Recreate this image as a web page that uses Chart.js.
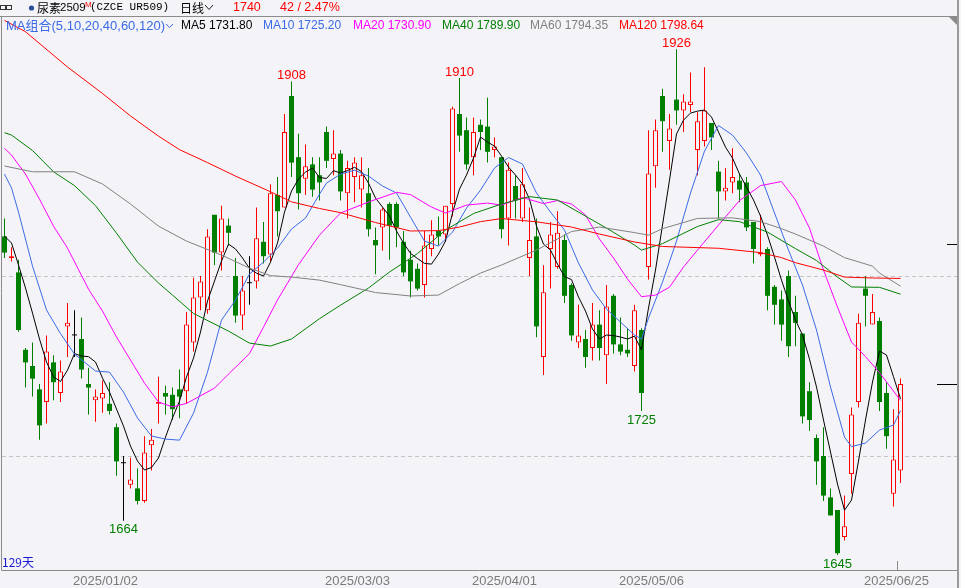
<!DOCTYPE html>
<html>
<head>
<meta charset="utf-8">
<title>尿素2509 日线</title>
<script src="https://cdn.jsdelivr.net/npm/chart.js@4.4.1/dist/chart.umd.min.js"></script>
<style>
  html, body { margin: 0; padding: 0; background: #f4f4f8; }
  #wrap { position: relative; width: 961px; height: 588px; overflow: hidden; }
  #c { position: absolute; left: 0; top: 0; }
  .t { position: absolute; white-space: nowrap; line-height: 15px; font-size: 12px;
       font-family: "Liberation Sans", "Noto Sans CJK SC", sans-serif; }
  .cjk { font-family: "Noto Sans CJK SC", sans-serif; }
</style>
</head>
<body>
<div id="wrap">
  <canvas id="c" width="961" height="588"></canvas>
  <!-- header row -->
  <span class="t cjk" style="left:37px;top:0;color:#000">尿素</span>
  <span class="t" style="left:60px;top:0;font-size:11.5px;color:#000">2509</span>
  <span class="t" style="left:85px;top:-3px;font-size:8px;color:#f00">M</span>
  <span class="t" style="left:90px;top:0;font-family:'Liberation Mono',monospace;font-size:11px;color:#000">(CZCE UR509)</span>
  <span class="t cjk" style="left:180px;top:0;color:#000">日线</span>
  <span class="t" id="lastPrice" style="left:233px;top:0;font-size:12.5px;color:#f00"></span>
  <span class="t" id="lastChange" style="left:280px;top:0;font-size:12.5px;color:#f00"></span>
  <!-- MA legend row -->
  <span class="t" style="left:6px;top:18px;font-size:13px;color:#3a6ae6">MA组合(5,10,20,40,60,120)</span>
  <span class="t" id="lg5" style="left:181px;top:18px;color:#000"></span>
  <span class="t" id="lg10" style="left:263px;top:18px;color:#3a6ae6"></span>
  <span class="t" id="lg20" style="left:353px;top:18px;color:#ff00ff"></span>
  <span class="t" id="lg40" style="left:442px;top:18px;color:#007f00"></span>
  <span class="t" id="lg60" style="left:530px;top:18px;color:#808080"></span>
  <span class="t" id="lg120" style="left:619px;top:18px;color:#f00"></span>
</div>
<script>
// Daily candles, UR509 (129 trading days)
const openP  = [1822,1810,1802,1759,1750,1737,1730,1752,1735,1772,1767,1765,1740,1731,1732,1729,1716,1696,1684,1682,
                1675,1706,1729,1735,1734,1737,1736,1763,1788,1781,1834,1813,1828,1800,1778,1796,1797,1819,1812,1845,
                1838,1900,1866,1854,1862,1856,1880,1865,1868,1846,1855,1848,1846,1820,1827,1840,1840,1819,1809,1804,
                1795,1815,1825,1823,1840,1890,1881,1866,1884,1883,1870,1866,1832,1850,1832,1810,1822,1755,1815,1805,
                1820,1795,1763,1765,1760,1773,1756,1789,1762,1759,1750,1770,1805,1861,1900,1875,1898,1892,1895,1870,
                1875,1885,1858,1847,1852,1853,1852,1830,1812,1815,1794,1787,1800,1780,1768,1736,1710,1700,1677,1670,
                1655,1690,1730,1793,1773,1775,1735,1679,1692];
const highP  = [1832,1816,1809,1760,1763,1740,1767,1756,1753,1785,1781,1777,1749,1737,1742,1741,1718,1700,1699,1693,
                1711,1715,1744,1739,1738,1748,1780,1799,1800,1826,1834,1839,1832,1810,1800,1811,1838,1830,1851,1855,
                1890,1908,1879,1873,1866,1866,1883,1881,1870,1864,1866,1866,1860,1827,1838,1841,1841,1825,1814,1807,
                1825,1831,1833,1839,1894,1910,1888,1888,1887,1899,1877,1866,1863,1856,1860,1838,1832,1806,1830,1836,
                1823,1796,1784,1770,1785,1781,1795,1790,1777,1771,1784,1771,1881,1887,1904,1890,1926,1901,1913,1891,
                1916,1885,1864,1860,1871,1857,1855,1830,1834,1816,1795,1792,1803,1789,1768,1741,1712,1716,1682,1670,
                1678,1727,1779,1800,1790,1777,1741,1726,1743];
const lowP   = [1810,1808,1769,1738,1733,1709,1718,1731,1730,1755,1755,1743,1723,1719,1724,1723,1689,1664,1682,1673,
                1674,1692,1718,1723,1720,1721,1729,1758,1781,1779,1806,1803,1817,1774,1770,1784,1793,1807,1808,1822,
                1838,1855,1837,1845,1844,1842,1860,1856,1842,1832,1841,1838,1822,1801,1814,1809,1816,1800,1788,1792,
                1788,1811,1817,1819,1833,1869,1859,1856,1870,1863,1866,1821,1817,1832,1830,1800,1766,1745,1793,1804,
                1785,1764,1760,1749,1753,1753,1740,1757,1756,1755,1747,1725,1798,1849,1869,1859,1884,1880,1891,1856,
                1872,1870,1832,1842,1846,1841,1825,1807,1811,1781,1773,1764,1755,1761,1718,1714,1684,1675,1667,1645,
                1653,1679,1727,1772,1773,1725,1704,1672,1685];
const closeP = [1813,1811,1770,1752,1743,1717,1758,1741,1747,1774,1767,1748,1738,1733,1735,1725,1697,1696,1687,1675,
                1702,1709,1730,1733,1726,1733,1773,1788,1797,1822,1813,1832,1824,1778,1792,1796,1821,1811,1846,1836,
                1880,1863,1846,1861,1848,1852,1864,1868,1847,1860,1863,1856,1826,1817,1837,1828,1827,1802,1797,1793,
                1817,1823,1822,1839,1893,1878,1862,1880,1880,1869,1872,1826,1859,1842,1851,1820,1772,1791,1823,1824,
                1789,1767,1767,1755,1773,1760,1783,1762,1758,1757,1781,1735,1857,1881,1886,1882,1892,1897,1897,1886,
                1892,1877,1847,1849,1855,1848,1827,1815,1813,1789,1784,1773,1761,1774,1722,1720,1697,1678,1667,1646,
                1661,1723,1774,1789,1780,1730,1711,1698,1740];

// Moving averages: candle index -> value
const ma5Val = [1822.2,1818.3,1806.1,1793.3,1779.4,1765,1752.2,1744,1741.4,1747.7,1756.9,1755.5,1755.2,1752.2,1743.3,1735.5,
                1726.1,1716.6,1705.5,1697.2,1692.2,1693.6,1698.9,1710.5,1721.1,1730.5,1743.9,1754.4,1768.9,1786.1,1797.2,
                1808.3,1817.7,1815,1810,1804.2,1801.6,1800,1807.7,1818.3,1835.5,1847.2,1853.9,1857.7,1860,1854.7,1854.2,
                1858.5,1857.2,1858.6,1860.4,1858,1851.6,1843.3,1838.3,1833.3,1825,1818.3,1812.6,1809.7,1807,1806.6,1812.2,
                1819.4,1835,1848.3,1856.1,1865.5,1877.2,1874.4,1872.2,1866.6,1860.5,1856.1,1851.1,1842.7,1827.7,1817.7,
                1814.4,1806.6,1799.7,1798,1788.3,1780.5,1770.5,1765,1767.2,1766.9,1766.1,1765,1766.6,1758.9,1782.2,1803.3,
                1828.3,1853.3,1878.9,1886.6,1890.5,1891.6,1892.2,1888.3,1880,1871.6,1865.5,1856.6,1849.4,1842.2,1833.3,
                1822.7,1810.5,1797.7,1786.1,1775.5,1767.2,1753.8,1738.3,1720,1702.2,1684.4,1669.9,1675.5,1697.2,1720,
                1741.1,1758.3,1756.1,1744,1731.8];
const ma10Idx = [0,1,2,4,6,8,10,13,15,17,19,21,23,25,27,29,31,33,35,37,39,41,43,45,46,48,50,52,54,56,58,60,62,64,66,68,70,
                 72,74,76,78,80,82,84,86,88,90,91,92,94,96,98,100,102,104,106,108,110,112,114,116,118,120,121,123,125,127,128];
const ma10Val = [1856.6,1848.9,1835.5,1805.5,1781.1,1768,1756.6,1747.2,1746.6,1735.5,1721.1,1711.1,1709.4,1708.8,1723.8,
                 1746.6,1775.5,1786.6,1801.1,1807.7,1815.5,1826.1,1832.2,1845.5,1851.6,1856.6,1858.8,1855.5,1850,1846.1,
                 1832.7,1819.4,1816.6,1824.4,1837.7,1847.7,1860,1865.8,1862.2,1846.1,1835.5,1825.5,1807.2,1792.2,1781.6,
                 1774.4,1767.2,1765,1776.6,1796.6,1819.4,1846.1,1869.4,1883.6,1878.3,1868.3,1856.1,1835,1814.4,1795,1770,
                 1738.3,1710.5,1705.2,1707.2,1714.4,1717.2,1725.2];
const ma20Idx = [0,1,3,5,7,9,12,14,16,18,20,22,24,26,30,32,35,37,39,42,45,48,52,56,58,61,63,66,69,71,74,77,79,81,83,85,87,
                 89,91,93,95,97,99,102,105,108,111,113,115,117,119,121,123,125,128];
const ma20Val = [1870.9,1867.2,1856.6,1842.7,1827.7,1815.5,1792.7,1780.5,1766.1,1753.3,1740.5,1730,1727.3,1729.2,1737.7,
                 1745.5,1756.9,1771.6,1786.7,1806.3,1822.7,1835,1841.1,1846.5,1845.2,1838.3,1835,1839.4,1840.5,1839.4,
                 1843.6,1840.2,1841.9,1840,1833.9,1820.5,1810,1798.3,1788.5,1789.4,1793.8,1805,1814.4,1828.3,1841.9,
                 1850.2,1852.5,1842.2,1826.6,1803.3,1782.7,1763.3,1755.2,1746.3,1730.9];
const ma40Idx = [0,1,4,7,10,13,16,19,22,24,27,32,35,38,41,45,48,52,55,59,63,67,71,75,79,82,86,90,91,94,99,102,105,109,113,
                 116,119,121,125,128];
const ma40Val = [1879.6,1878.3,1869.7,1857.9,1850.2,1839.1,1823.8,1807.7,1796.1,1789.4,1779.2,1769.4,1762.7,1761.1,1765,
                 1776.3,1783.8,1793.3,1802.2,1812.5,1825.5,1834.7,1840,1844.1,1842.2,1835.5,1826.6,1817.2,1814.4,1818,
                 1827.5,1831.3,1830.2,1824.4,1815.2,1808.6,1799.4,1793.9,1793.7,1789.9];
const ma60Idx = [0,4,10,14,18,22,26,31,35,38,41,45,48,53,58,62,65,68,71,76,81,85,90,92,94,99,104,108,111,113,117,120,124,
                 125,128];
const ma60Val = [1861.1,1857.9,1857.9,1851.1,1840,1827.7,1819.4,1811.6,1804.4,1800.2,1799.4,1797.7,1795.2,1790.8,1788.9,
                 1789.4,1795.8,1801.6,1806.1,1814.4,1824.7,1827.2,1824.1,1822.7,1826.3,1832,1832.3,1830.2,1826.3,1823.3,
                 1816.6,1810.2,1805.5,1801.6,1794.35];
const ma120Idx = [0,3,9,14,18,22,25,29,33,38,41,45,48,53,58,62,65,68,71,76,81,85,90,94,102,108,111,113,117,120,124,128];
const ma120Val = [1942,1935.7,1916.1,1901.4,1888.9,1877.7,1870.2,1863,1855.5,1846.8,1841.2,1837.5,1835.2,1829.7,1825,
                  1825.2,1827.2,1830.2,1831.9,1830.1,1827.2,1823.3,1818.9,1816.4,1815.4,1813,1810.2,1807.4,1803.3,1799.4,
                  1798.9,1798.64];

// Labels and reference levels
const peakHighIdx = [41, 65, 96];
const peakLowIdx = [17, 91, 119];
const gridLevels = [1800, 1700];
const axisMarks = [1818, 1740];
const dateTicks = ['2025/01/02', '2025/03/03', '2025/04/01', '2025/05/06', '2025/06/25'];
const dateTickIdx = [15, 51, 72, 93, 128];
const dayCountLabel = '129天';

const BG = '#f4f4f8';
const UP = '#ff0000';
const DOWN = '#007f00';
const FLAT = '#000000';

const idx = openP.map((_, i) => i);
const candleColor = idx.map(i => closeP[i] > openP[i] ? UP : (closeP[i] < openP[i] ? DOWN : FLAT));
const isUp = idx.map(i => closeP[i] > openP[i]);

function zip(xs, ys) {
    return xs.map((x, k) => ({ x: x, y: ys[k] }));
}

// Header texts
const last = closeP[closeP.length - 1];
const prev = closeP[closeP.length - 2];
document.getElementById('lastPrice').textContent = String(last);
document.getElementById('lastChange').textContent = (last - prev) + ' / ' + ((last - prev) / prev * 100).toFixed(2) + '%';
document.getElementById('lg5').textContent = 'MA5 ' + ma5Val[ma5Val.length - 1].toFixed(2);
document.getElementById('lg10').textContent = 'MA10 ' + ma10Val[ma10Val.length - 1].toFixed(2);
document.getElementById('lg20').textContent = 'MA20 ' + ma20Val[ma20Val.length - 1].toFixed(2);
document.getElementById('lg40').textContent = 'MA40 ' + ma40Val[ma40Val.length - 1].toFixed(2);
document.getElementById('lg60').textContent = 'MA60 ' + ma60Val[ma60Val.length - 1].toFixed(2);
document.getElementById('lg120').textContent = 'MA120 ' + ma120Val[ma120Val.length - 1].toFixed(2);

// Frame, grid, labels
const decor = {
    id: 'decor',
    beforeDatasetsDraw(chart) {
        const { ctx, chartArea: a, scales: { y } } = chart;
        ctx.save();
        ctx.strokeStyle = '#c4c4c4';
        ctx.lineWidth = 1;
        ctx.setLineDash([4, 3]);
        gridLevels.forEach(v => {
            const py = Math.round(y.getPixelForValue(v)) + 0.5;
            ctx.beginPath();
            ctx.moveTo(a.left, py);
            ctx.lineTo(a.right, py);
            ctx.stroke();
        });
        ctx.restore();
    },
    afterDraw(chart) {
        const { ctx, chartArea: a, scales: { x, y } } = chart;
        ctx.save();

        // frame
        ctx.strokeStyle = '#8a8a8a';
        ctx.lineWidth = 1;
        ctx.beginPath();
        ctx.moveTo(0, 16.5); ctx.lineTo(a.right, 16.5);
        ctx.moveTo(1.5, 16.5); ctx.lineTo(1.5, 570.5);
        ctx.moveTo(1.5, 570.5); ctx.lineTo(a.right, 570.5);
        ctx.stroke();
        ctx.strokeStyle = '#9a9a9a';
        ctx.lineWidth = 2;
        ctx.beginPath();
        ctx.moveTo(a.right + 1, 0); ctx.lineTo(a.right + 1, 588);
        ctx.stroke();
        ctx.fillStyle = '#8a8a8a';
        ctx.beginPath();
        ctx.moveTo(a.right - 8, 17); ctx.lineTo(a.right, 17); ctx.lineTo(a.right, 25);
        ctx.closePath();
        ctx.fill();

        // header icon, dot and chevrons
        ctx.strokeStyle = '#333';
        ctx.lineWidth = 1;
        ctx.strokeRect(0.5, 5.5, 6, 4);
        ctx.strokeRect(5.5, 5.5, 6, 4);
        ctx.fillStyle = '#2a4d9b';
        ctx.beginPath();
        ctx.arc(31.5, 8, 2.6, 0, Math.PI * 2);
        ctx.fill();
        ctx.strokeStyle = '#222';
        ctx.beginPath();
        ctx.moveTo(205, 5); ctx.lineTo(209, 9.5); ctx.lineTo(213, 5);
        ctx.stroke();
        ctx.strokeStyle = '#3a6ae6';
        ctx.beginPath();
        ctx.moveTo(166, 24); ctx.lineTo(169.5, 27.5); ctx.lineTo(173, 24);
        ctx.stroke();

        // right axis marks
        ctx.strokeStyle = '#000';
        axisMarks.forEach((v, k) => {
            const py = Math.round(y.getPixelForValue(v)) + 0.5;
            ctx.beginPath();
            ctx.moveTo(a.right - (k === 0 ? 10 : 20), py);
            ctx.lineTo(a.right, py);
            ctx.stroke();
        });

        // peak / trough labels
        ctx.font = '13px "Liberation Sans", sans-serif';
        ctx.textAlign = 'center';
        ctx.textBaseline = 'middle';
        ctx.fillStyle = UP;
        peakHighIdx.forEach(i => {
            ctx.fillText(String(highP[i]), x.getPixelForValue(i), y.getPixelForValue(highP[i]) - 6);
        });
        ctx.fillStyle = DOWN;
        peakLowIdx.forEach(i => {
            ctx.fillText(String(lowP[i]), x.getPixelForValue(i), y.getPixelForValue(lowP[i]) + 9);
        });

        // date axis
        ctx.fillStyle = '#7a7a7a';
        dateTicks.forEach((d, k) => {
            ctx.fillText(d, x.getPixelForValue(dateTickIdx[k]) - 4, 581);
        });
        const lastTick = Math.round(x.getPixelForValue(dateTickIdx[dateTickIdx.length - 1]) - 4) + 0.5;
        ctx.strokeStyle = '#8a8a8a';
        ctx.beginPath();
        ctx.moveTo(lastTick, 561); ctx.lineTo(lastTick, 570);
        ctx.stroke();

        // day count
        ctx.textAlign = 'left';
        ctx.fillStyle = '#1a1ad0';
        ctx.font = '12px "Noto Sans CJK SC", sans-serif';
        ctx.fillText(dayCountLabel, 2, 562);

        ctx.restore();
    }
};

// Layout: 7 px per candle, 1.8 px per price unit
const AREA_L = 2, AREA_R = 957, AREA_T = 17, AREA_B = 570;
const STEP = 7, PX_PER_UNIT = 1.8;
const xMin = -2.5 / STEP;
const xMax = xMin + (AREA_R - AREA_L) / STEP;
const yMax = 1800 + (276 - AREA_T) / PX_PER_UNIT;
const yMin = yMax - (AREA_B - AREA_T) / PX_PER_UNIT;

function maLine(label, points, color) {
    return {
        type: 'line',
        label: label,
        data: points,
        borderColor: color,
        borderWidth: 1,
        pointRadius: 0,
        tension: 0,
        fill: false,
        order: 0
    };
}

new Chart(document.getElementById('c'), {
    type: 'bar',
    data: {
        datasets: [
            maLine('MA120', zip(ma120Idx, ma120Val), '#ff0000'),
            maLine('MA60', zip(ma60Idx, ma60Val), '#808080'),
            maLine('MA40', zip(ma40Idx, ma40Val), '#007f00'),
            maLine('MA20', zip(ma20Idx, ma20Val), '#ff00ff'),
            maLine('MA10', zip(ma10Idx, ma10Val), '#3a6ae6'),
            maLine('MA5', zip(idx, ma5Val), '#000000'),
            {
                label: 'body',
                data: idx.map(i => ({ x: i, y: [openP[i], closeP[i]] })),
                barThickness: 5,
                grouped: false,
                minBarLength: 1,
                inflateAmount: 0,
                borderSkipped: false,
                backgroundColor: idx.map(i => isUp[i] ? BG : candleColor[i]),
                borderColor: candleColor,
                borderWidth: idx.map(i => isUp[i] ? 1 : 0),
                order: 1
            },
            {
                label: 'wick',
                data: idx.map(i => ({ x: i, y: [lowP[i], highP[i]] })),
                barThickness: 1,
                grouped: false,
                inflateAmount: 0,
                borderWidth: 0,
                backgroundColor: candleColor,
                order: 2
            }
        ]
    },
    options: {
        responsive: false,
        animation: false,
        devicePixelRatio: 1,
        events: [],
        layout: { padding: { left: AREA_L, right: 961 - AREA_R, top: AREA_T, bottom: 588 - AREA_B } },
        plugins: { legend: { display: false }, tooltip: { enabled: false } },
        scales: {
            x: { type: 'linear', min: xMin, max: xMax, offset: false, display: false },
            y: { type: 'linear', min: yMin, max: yMax, beginAtZero: false, display: false }
        }
    },
    plugins: [decor]
});
</script>
</body>
</html>
